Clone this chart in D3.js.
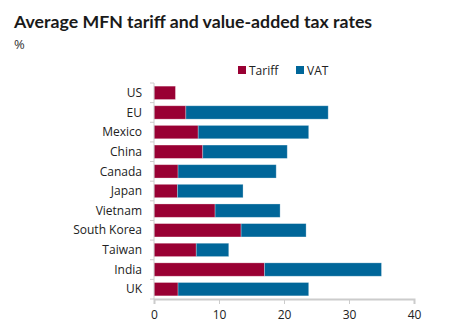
<!DOCTYPE html>
<html>
<head>
<meta charset="utf-8">
<script src="https://cdn.jsdelivr.net/npm/d3@7"></script>
<style>
  body { margin: 0; background: #fff; }
  text { font-family: "Open Sans", sans-serif; }
</style>
</head>
<body>
<svg id="chart"></svg>
<script>
// chart data
var countries = ['US', 'EU', 'Mexico', 'China', 'Canada', 'Japan', 'Vietnam', 'South Korea', 'Taiwan', 'India', 'UK'];
var tariff = [3.3, 4.9, 6.8, 7.5, 3.7, 3.6, 9.4, 13.4, 6.5, 17.0, 3.7];
var vat = [0, 21.9, 17.0, 13.0, 15.1, 10.1, 10.0, 10.0, 5.0, 18.0, 20.1];
var xTicks = [0, 10, 20, 30, 40];
var seriesNames = ['Tariff', 'VAT'];

var width = 454,
	height = 335,
	margin = {top: 83, right: 40, bottom: 36, left: 154},
	colors = ['#990033', '#006699'];

var svg = d3.select('#chart')
	.attr('width', width)
	.attr('height', height);

var rows = countries.map(function(c, i) {
	return {country: c, Tariff: tariff[i], VAT: vat[i]};
});

var x = d3.scaleLinear()
	.domain([0, 40])
	.range([margin.left, width - margin.right]);

var y = d3.scaleBand()
	.domain(countries)
	.range([margin.top, height - margin.bottom])
	.paddingInner(0.32)
	.paddingOuter(0.16);

var stack = d3.stack().keys(seriesNames)(rows);

// title
svg.append('text')
	.attr('x', 14)
	.attr('y', 28)
	.style('font-family', 'Lato, sans-serif')
	.style('font-weight', 'bold')
	.style('font-size', '17.7px')
	.attr('fill', '#1a1a1a')
	.text('Average MFN tariff and value-added tax rates');

svg.append('text')
	.attr('x', 14)
	.attr('y', 49)
	.style('font-size', '13px')
	.attr('fill', '#333')
	.text('%');

// legend
var legend = svg.selectAll('.legend')
	.data(seriesNames)
	.enter().append('g')
		.attr('class', 'legend')
		.attr('transform', function(d, i) {
			return 'translate(' + (238 + i * 58) + ',66)';
		});

legend.append('rect')
	.attr('width', 8)
	.attr('height', 8)
	.attr('fill', function(d, i) { return colors[i]; });

legend.append('text')
	.attr('x', 11)
	.attr('y', 8.5)
	.style('font-size', '12px')
	.attr('fill', '#222')
	.text(function(d) { return d; });

// bars
svg.selectAll('.series')
	.data(stack)
	.enter().append('g')
		.attr('class', 'series')
		.attr('fill', function(d, i) { return colors[i]; })
	.selectAll('rect')
	.data(function(d) { return d; })
	.enter().append('rect')
		.attr('x', function(d) { return x(d[0]); })
		.attr('y', function(d) { return y(d.data.country); })
		.attr('width', function(d) { return Math.max(0, x(d[1]) - x(d[0])); })
		.attr('height', y.bandwidth())
		.attr('stroke', 'rgba(255,255,255,0.35)')
		.attr('stroke-width', 0.8);

// axes
var yAxis = svg.append('g')
	.attr('transform', 'translate(' + margin.left + ',0)');

yAxis.append('line')
	.attr('x1', 0).attr('x2', 0)
	.attr('y1', margin.top).attr('y2', height - margin.bottom)
	.attr('stroke', '#ccc');

var bounds = countries.map(function(c) { return y(c) - y.step() * y.paddingInner() / 2; });
bounds.push(height - margin.bottom);
yAxis.selectAll('.ytick')
	.data(bounds)
	.enter().append('line')
		.attr('x1', -4).attr('x2', 0)
		.attr('y1', function(d) { return d; })
		.attr('y2', function(d) { return d; })
		.attr('stroke', '#ccc');

yAxis.selectAll('.ylabel')
	.data(countries)
	.enter().append('text')
		.attr('x', -12)
		.attr('y', function(d) { return y(d) + y.bandwidth() / 2; })
		.attr('dy', '0.35em')
		.attr('text-anchor', 'end')
		.style('font-size', '12px')
		.attr('fill', '#222')
		.text(function(d) { return d; });

var xAxis = svg.append('g')
	.attr('transform', 'translate(0,' + (height - margin.bottom) + ')')
	.call(d3.axisBottom(x).tickValues(xTicks).tickSize(5).tickPadding(6));

xAxis.select('.domain').attr('stroke', '#ccc').attr('stroke-width', 2);
xAxis.selectAll('.tick line').attr('stroke', '#ccc');
xAxis.selectAll('.tick text')
	.style('font-family', '"Open Sans", sans-serif')
	.style('font-size', '12px')
	.attr('fill', '#222');
</script>
</body>
</html>
